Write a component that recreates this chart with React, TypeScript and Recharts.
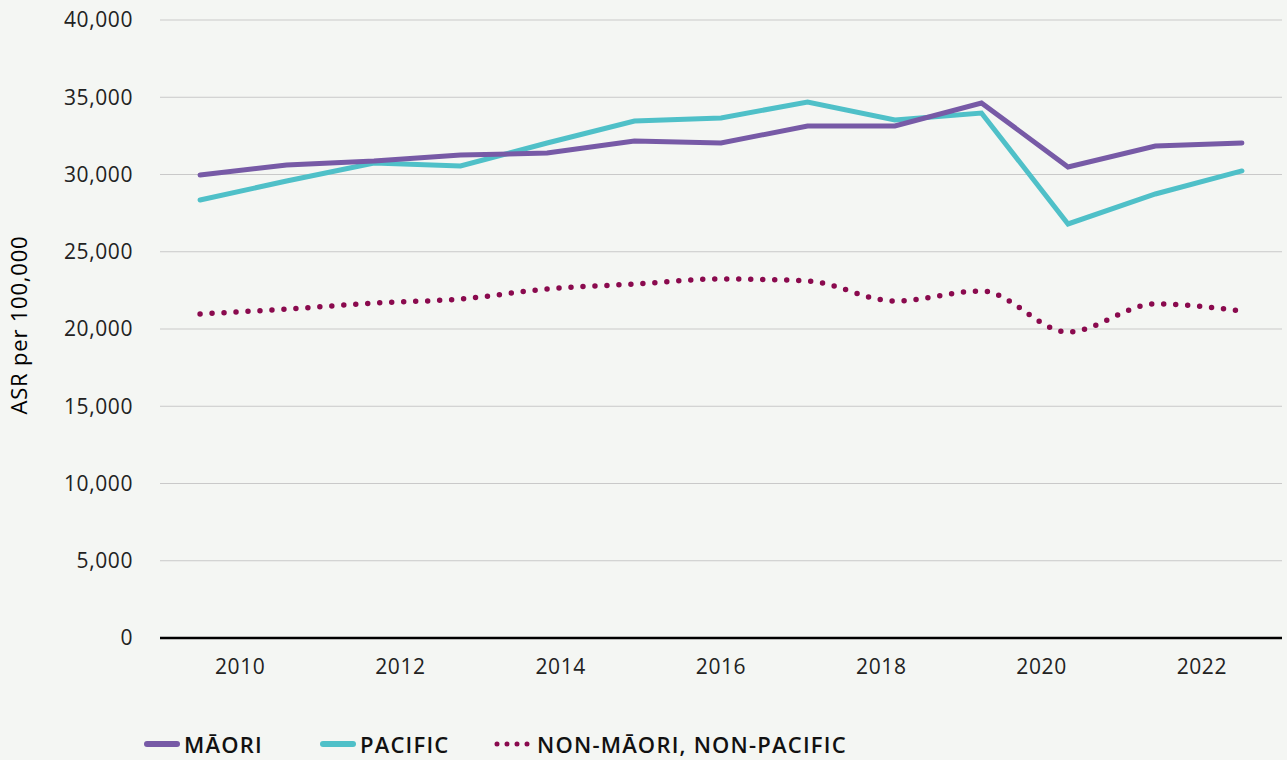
import React from "react";
import { LineChart, Line, XAxis, YAxis, CartesianGrid } from "recharts";

const periods = [2009.5, 2010.58, 2011.67, 2012.75, 2013.83, 2014.92, 2016.0, 2017.08, 2018.17, 2019.25, 2020.33, 2021.42, 2022.5];
const maori = [29970, 30610, 30870, 31260, 31390, 32170, 32040, 33140, 33140, 34630, 30490, 31840, 32040];
const pacific = [28350, 29580, 30740, 30550, 32040, 33460, 33660, 34690, 33530, 33980, 26800, 28740, 30230];
const nonMaoriNonPacific = [20970, 21290, 21680, 21940, 22590, 22910, 23240, 23110, 21810, 22460, 19810, 21620, 21170];
const xTicks = [2010, 2012, 2014, 2016, 2018, 2020, 2022];
const yTicks = [0, 5000, 10000, 15000, 20000, 25000, 30000, 35000, 40000];
const seriesNames = ["MĀORI", "PACIFIC", "NON-MĀORI, NON-PACIFIC"];

const data = periods.map((p, i) => ({
  x: p,
  maori: maori[i],
  pacific: pacific[i],
  other: nonMaoriNonPacific[i],
}));

const FONT = "'Open Sans', 'Noto Sans', sans-serif";
const COLORS = { maori: "#775aa6", pacific: "#4fc0c8", other: "#8a0a4e" };
const tickStyle = { fill: "#222", fontSize: 21, fontFamily: FONT, letterSpacing: 0.6 };

function LegendItem({ color, dotted, label, width }: { color: string; dotted?: boolean; label: string; width?: number }) {
  return (
    <div style={{ display: "flex", alignItems: "center", width }}>
      <svg width={dotted ? 40 : 36} height={10} style={{ marginRight: dotted ? 3 : 4 }}>
        {dotted ? (
          <line x1={3} y1={5} x2={40} y2={5} stroke={color} strokeWidth={5} strokeDasharray="0 10" strokeLinecap="round" />
        ) : (
          <line x1={3} y1={5} x2={33} y2={5} stroke={color} strokeWidth={6} strokeLinecap="round" />
        )}
      </svg>
      <span>{label}</span>
    </div>
  );
}

export default function App() {
  return (
    <div style={{ position: "fixed", left: 0, top: 0, width: 1287, height: 760, background: "#f4f6f3", fontFamily: FONT }}>
      <LineChart width={1287} height={760} data={data} margin={{ top: 20, right: 5, bottom: 62, left: 0 }}>
        <CartesianGrid vertical={false} stroke="#c9c9c9" strokeWidth={1.2} />
        <XAxis
          dataKey="x"
          type="number"
          domain={[2009, 2023]}
          ticks={xTicks}
          allowDataOverflow
          height={60}
          tickLine={false}
          tickSize={0}
          tickMargin={21}
          axisLine={{ stroke: "#000", strokeWidth: 2.5 }}
          tick={tickStyle}
        />
        <YAxis
          width={160}
          domain={[0, 40000]}
          ticks={yTicks}
          tickLine={false}
          axisLine={false}
          tickSize={0}
          tickMargin={27}
          tickFormatter={(v: number) => v.toLocaleString("en-US")}
          tick={tickStyle}
          label={{
            value: "ASR per 100,000",
            angle: -90,
            position: "insideLeft",
            dx: 14,
            dy: -4,
            style: { fill: "#000", fontSize: 22, fontWeight: 500, fontFamily: FONT, textAnchor: "middle", letterSpacing: 0.8 },
          }}
        />
        <Line dataKey="other" type="monotone" stroke={COLORS.other} strokeWidth={5.5} strokeDasharray="0 12" strokeLinecap="round" dot={false} isAnimationActive={false} />
        <Line dataKey="pacific" type="linear" stroke={COLORS.pacific} strokeWidth={5} strokeLinecap="round" dot={false} isAnimationActive={false} />
        <Line dataKey="maori" type="linear" stroke={COLORS.maori} strokeWidth={5} strokeLinecap="round" dot={false} isAnimationActive={false} />
      </LineChart>
      <div
        style={{
          position: "absolute",
          left: 144,
          top: 729,
          display: "flex",
          alignItems: "center",
          fontSize: 22,
          fontWeight: 600,
          letterSpacing: 1.2,
          color: "#111",
          fontFamily: FONT,
        }}
      >
        <LegendItem color={COLORS.maori} label={seriesNames[0]} width={176} />
        <LegendItem color={COLORS.pacific} label={seriesNames[1]} width={174} />
        <LegendItem color={COLORS.other} dotted label={seriesNames[2]} />
      </div>
    </div>
  );
}
